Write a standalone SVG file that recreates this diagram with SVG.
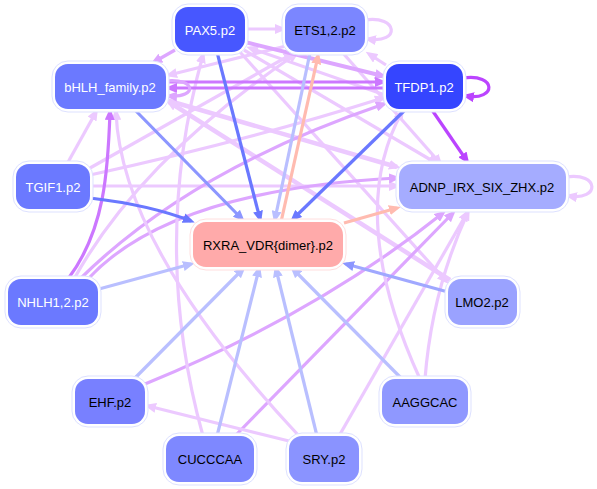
<svg xmlns="http://www.w3.org/2000/svg" width="597" height="489" viewBox="0 0 597 489">
<style>
.e{fill:none;stroke-width:3.2;stroke-linecap:butt}
.S{stroke:#bb44ff}.P{stroke:#cc77ff}.L{stroke:#dda6ff}.L2{stroke:#ecc9ff}
.B{stroke:#6a78ff}.B2{stroke:#8c96ff}.LB{stroke:#b9bfff}.SA{stroke:#ffbbb0}
.halo{fill:#fff;stroke:#dde1ff;stroke-width:1}
.t{font-family:"Liberation Sans",Arial,sans-serif;font-size:13px;text-anchor:middle;dominant-baseline:central}
.w{fill:#fff}.k{fill:#000}
</style>
<defs>
<marker id="mS" viewBox="0 0 12 10" refX="8" refY="5" markerWidth="12" markerHeight="10" markerUnits="userSpaceOnUse" orient="auto"><path d="M0,0 L12,5 L0,10 z" fill="#bb44ff"/></marker>
<marker id="mP" viewBox="0 0 12 10" refX="8" refY="5" markerWidth="12" markerHeight="10" markerUnits="userSpaceOnUse" orient="auto"><path d="M0,0 L12,5 L0,10 z" fill="#cc77ff"/></marker>
<marker id="mL" viewBox="0 0 12 10" refX="8" refY="5" markerWidth="12" markerHeight="10" markerUnits="userSpaceOnUse" orient="auto"><path d="M0,0 L12,5 L0,10 z" fill="#dda6ff"/></marker>
<marker id="mL2" viewBox="0 0 12 10" refX="8" refY="5" markerWidth="12" markerHeight="10" markerUnits="userSpaceOnUse" orient="auto"><path d="M0,0 L12,5 L0,10 z" fill="#ecc9ff"/></marker>
<marker id="mB" viewBox="0 0 12 10" refX="8" refY="5" markerWidth="12" markerHeight="10" markerUnits="userSpaceOnUse" orient="auto"><path d="M0,0 L12,5 L0,10 z" fill="#6a78ff"/></marker>
<marker id="mB2" viewBox="0 0 12 10" refX="8" refY="5" markerWidth="12" markerHeight="10" markerUnits="userSpaceOnUse" orient="auto"><path d="M0,0 L12,5 L0,10 z" fill="#8c96ff"/></marker>
<marker id="mLB" viewBox="0 0 12 10" refX="8" refY="5" markerWidth="12" markerHeight="10" markerUnits="userSpaceOnUse" orient="auto"><path d="M0,0 L12,5 L0,10 z" fill="#b9bfff"/></marker>
<marker id="mSA" viewBox="0 0 12 10" refX="8" refY="5" markerWidth="12" markerHeight="10" markerUnits="userSpaceOnUse" orient="auto"><path d="M0,0 L12,5 L0,10 z" fill="#ffbbb0"/></marker>
</defs>
<rect width="597" height="489" fill="#fff"/>
<g id="edges">
<path class="e L2" marker-end="url(#mL2)" d="M166,100 L397,167" style="stroke-width:4.5"/>
<path class="e L2" marker-end="url(#mL2)" d="M450,280 L169,102" style="stroke-width:4.5"/>
<path class="e L2" marker-end="url(#mL2)" d="M240,52 L446,281"/>
<path class="e L2" marker-end="url(#mL2)" d="M385,95 L250,48"/>
<path class="e L2" marker-end="url(#mL2)" d="M244,50 L436,163"/>
<path class="e L2" marker-end="url(#mL2)" d="M342,52 L440,163"/>
<path class="e L2" marker-end="url(#mL2)" d="M90,186 L397,186"/>
<path class="e L2" marker-end="url(#mL2)" d="M67,164 L96,112"/>
<path class="e L2" marker-end="url(#mL2)" d="M90,175 Q250,140 383,98"/>
<path class="e L2" marker-end="url(#mL2)" d="M90,168 L292,54"/>
<path class="e L" marker-end="url(#mL)" d="M88,279 Q170,190 397,178"/>
<path class="e L" marker-end="url(#mL)" d="M80,279 Q190,170 384,104"/>
<path class="e L2" marker-end="url(#mL2)" d="M74,279 Q140,160 296,54"/>
<path class="e L" marker-end="url(#mL)" d="M145,384 Q318,313 443,213"/>
<path class="e L" marker-end="url(#mL)" d="M235,436 L453,213"/>
<path class="e L2" marker-end="url(#mL2)" d="M339,436 L467,213"/>
<path class="e L2" marker-end="url(#mL2)" d="M425,379 Q432,290 468,212"/>
<path class="e L2" marker-end="url(#mL2)" d="M420,379 Q345,215 402,112"/>
<path class="e L2" marker-end="url(#mL2)" d="M289,441 L148,406"/>
<path class="e L2" marker-end="url(#mL2)" d="M300,437 Q121,246 116,112"/>
<path class="e L2" marker-end="url(#mL2)" d="M203,436 Q150,245 203,55"/>
<path class="e L2" marker-end="url(#mL2)" d="M245,29 L283,29"/>
<path class="e L" marker-end="url(#mL)" d="M175,50 L154,62"/>
<path class="e L2" marker-end="url(#mL2)" d="M365,20 C398,15 401,44 368,39"/>
<path class="e L2" marker-end="url(#mL2)" d="M386,65 L369,54"/>
<path class="e L2" marker-end="url(#mL2)" d="M286,46 L169,75"/>
<path class="e L" marker-end="url(#mL)" d="M245,42 L383,76" style="stroke-width:4"/>
<path class="e P" marker-end="url(#mP)" d="M166,82 L383,82"/>
<path class="e P" marker-end="url(#mP)" d="M386,88 L169,88"/>
<path class="e L" marker-end="url(#mL)" d="M166,81 C196,78 198,98 169,96"/>
<path class="e P" marker-end="url(#mP)" d="M68,279 C105,230 108,170 110,112"/>
<path class="e S" marker-end="url(#mS)" d="M463,78 C497,73 497,101 466,96"/>
<path class="e S" marker-end="url(#mS)" d="M432,110 L467,161"/>
<path class="e L2" marker-end="url(#mL2)" d="M566,177 C600,172 600,201 569,196"/>
<path class="e B" marker-end="url(#mB)" d="M217,52 L260,219"/>
<path class="e B2" marker-end="url(#mB2)" d="M135,110 L242,219"/>
<path class="e B" marker-end="url(#mB)" d="M405,110 L293,219"/>
<path class="e B" marker-end="url(#mB)" d="M90,198 Q150,205 191,221"/>
<path class="e LB" marker-end="url(#mLB)" d="M310,53 L275,219"/>
<path class="e SA" marker-end="url(#mSA)" d="M281,222 L318,56"/>
<path class="e LB" marker-end="url(#mLB)" d="M99,289 L191,264"/>
<path class="e LB" marker-end="url(#mLB)" d="M134,379 L243,269"/>
<path class="e LB" marker-end="url(#mLB)" d="M217,436 L259,269"/>
<path class="e LB" marker-end="url(#mLB)" d="M317,436 L276,269"/>
<path class="e LB" marker-end="url(#mLB)" d="M402,379 L293,269"/>
<path class="e" style="stroke:#a0a8ff" marker-end="url(#mB2)" d="M448,292 L346,264"/>
<path class="e SA" marker-end="url(#mSA)" d="M344,223 L397,208"/>
</g>
<g id="node-PAX5"><rect class="halo" x="172" y="4" width="76" height="51" rx="16"/><rect x="175" y="7" width="70" height="45" rx="13" fill="#4757ff"/><text class="t w" x="210" y="30">PAX5.p2</text></g>
<g id="node-ETS"><rect class="halo" x="282" y="4" width="86" height="51" rx="16"/><rect x="285" y="7" width="80" height="45" rx="13" fill="#7b86ff"/><text class="t k" x="325" y="30">ETS1,2.p2</text></g>
<g id="node-bHLH"><rect class="halo" x="52" y="61" width="117" height="51" rx="16"/><rect x="55" y="64" width="111" height="45" rx="13" fill="#6b79ff"/><text class="t w" x="110" y="87">bHLH_family.p2</text></g>
<g id="node-TFDP1"><rect class="halo" x="383" y="61" width="83" height="51" rx="16"/><rect x="386" y="64" width="77" height="45" rx="13" fill="#3545ff"/><text class="t w" x="424" y="87">TFDP1.p2</text></g>
<g id="node-TGIF1"><rect class="halo" x="13" y="161" width="80" height="51" rx="16"/><rect x="16" y="164" width="74" height="45" rx="13" fill="#6b79ff"/><text class="t w" x="53" y="187">TGIF1.p2</text></g>
<g id="node-ADNP"><rect class="halo" x="396" y="161" width="173" height="51" rx="16"/><rect x="399" y="164" width="167" height="45" rx="13" fill="#a5acff"/><text class="t k" x="482" y="187">ADNP_IRX_SIX_ZHX.p2</text></g>
<g id="node-RXRA"><rect class="halo" x="190" y="219" width="156" height="51" rx="16" style="stroke:#ffdede"/><rect x="193" y="222" width="150" height="45" rx="13" fill="#ffaaaa"/><text class="t k" x="268" y="245">RXRA_VDR{dimer}.p2</text></g>
<g id="node-NHLH"><rect class="halo" x="5" y="276" width="96" height="52" rx="16"/><rect x="8" y="279" width="90" height="46" rx="13" fill="#6b79ff"/><text class="t w" x="53" y="302">NHLH1,2.p2</text></g>
<g id="node-LMO2"><rect class="halo" x="445" y="276" width="75" height="52" rx="16"/><rect x="448" y="279" width="69" height="46" rx="13" fill="#9aa2ff"/><text class="t k" x="482" y="302">LMO2.p2</text></g>
<g id="node-EHF"><rect class="halo" x="72" y="376" width="76" height="51" rx="16"/><rect x="75" y="379" width="70" height="45" rx="13" fill="#7880ff"/><text class="t k" x="110" y="402">EHF.p2</text></g>
<g id="node-AAGGCAC"><rect class="halo" x="379" y="376" width="92" height="51" rx="16"/><rect x="382" y="379" width="86" height="45" rx="13" fill="#8f98ff"/><text class="t k" x="425" y="402">AAGGCAC</text></g>
<g id="node-CUCCCAA"><rect class="halo" x="163" y="433" width="94" height="52" rx="16"/><rect x="166" y="436" width="88" height="46" rx="13" fill="#7e88ff"/><text class="t k" x="210" y="459">CUCCCAA</text></g>
<g id="node-SRY"><rect class="halo" x="286" y="433" width="76" height="52" rx="16"/><rect x="289" y="436" width="70" height="46" rx="13" fill="#8a93ff"/><text class="t k" x="324" y="459">SRY.p2</text></g>
</svg>
